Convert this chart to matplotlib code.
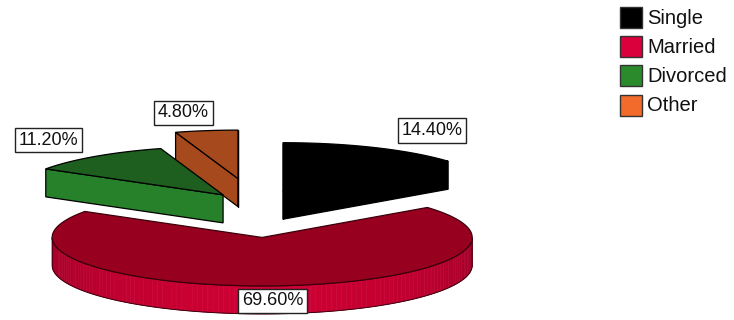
import matplotlib
matplotlib.use("Agg")
import matplotlib.pyplot as plt
from matplotlib.patches import Polygon, Rectangle
import numpy as np

# data
categories = ["Single", "Married", "Divorced", "Other"]
percent = [14.40, 69.60, 11.20, 4.80]

# style
legend_colors = ["#000000", "#d9003b", "#2b8a2b", "#f26b2b"]
top_colors = ["#000000", "#98001f", "#1e5e1e", "#a64a1d"]
side_colors = ["#000000", "#cc0033", "#27802a", "#a64a1d"]
edge_colors = ["#000000", "#3a000c", "#000000", "#000000"]
explode = [0.305, 0.68, 0.25, 0.54]
label_nudge = [(57, -17), (0, 1), (-47, -16), (-23, -18)]

W, H = 734, 320
CX, CY = 255, 204.5     # pie centre (pixels)
RX, RY = 210, 48.5      # projected ellipse radii
DEPTH = 28              # pie thickness

plt.rcParams["font.family"] = ["Liberation Sans", "DejaVu Sans"]


def rim(cx, cy, ang, dz=0.0):
    a = np.radians(ang)
    return cx + RX * np.cos(a), cy - RY * np.sin(a) + dz


def shade(color, f):
    rgb = np.array(matplotlib.colors.to_rgb(color)) * f
    return tuple(np.clip(rgb, 0, 1))


fig = plt.figure(figsize=(W / 100, H / 100), dpi=100)
ax = fig.add_axes([0, 0, 1, 1])
ax.set_xlim(0, W)
ax.set_ylim(H, 0)
ax.axis("off")

# slice angles (start at 12 o'clock, clockwise)
slices = []
start = 90.0
for i, p in enumerate(percent):
    span = 360.0 * p / 100.0
    hi, lo = start, start - span
    start = lo
    mid = (hi + lo) / 2
    sx = CX + explode[i] * RX * np.cos(np.radians(mid))
    sy = CY - explode[i] * RY * np.sin(np.radians(mid))
    slices.append(dict(i=i, hi=hi, lo=lo, mid=mid, sx=sx, sy=sy))

# back to front
for s in sorted(slices, key=lambda d: d["sy"]):
    i, hi, lo, sx, sy = s["i"], s["hi"], s["lo"], s["sx"], s["sy"]
    ec = edge_colors[i]

    # outer wall, only where it faces the viewer
    th = np.linspace(lo, hi, int((hi - lo) / 1.5) + 2)
    vis = []
    for a1, a2 in zip(th[:-1], th[1:]):
        am = (a1 + a2) / 2
        if np.sin(np.radians(am)) < 0:
            f = 0.78 + 0.22 * (-np.sin(np.radians(am)))
            x1, y1 = rim(sx, sy, a1)
            x2, y2 = rim(sx, sy, a2)
            c = shade(side_colors[i], f)
            ax.add_patch(Polygon([(x1, y1), (x2, y2), (x2, y2 + DEPTH), (x1, y1 + DEPTH)],
                                 closed=True, fc=c, ec=c, lw=0.4))
            vis.extend([a1, a2])
    if vis:
        arc = np.linspace(min(vis), max(vis), 200)
        top = [rim(sx, sy, a) for a in arc]
        bot = [rim(sx, sy, a, DEPTH) for a in arc[::-1]]
        ax.add_patch(Polygon(top + bot, closed=True, fill=False, ec=ec, lw=0.7))

    # radial cut faces
    for phi, normal in ((hi, hi + 90), (lo, lo - 90)):
        if np.sin(np.radians(normal)) <= 1e-6:
            rx_, ry_ = rim(sx, sy, phi)
            ax.add_patch(Polygon([(sx, sy), (rx_, ry_), (rx_, ry_ + DEPTH), (sx, sy + DEPTH)],
                                 closed=True, fc=side_colors[i], ec=ec, lw=0.9))

    # top face
    arc = np.linspace(hi, lo, 200)
    pts = [(sx, sy)] + [rim(sx, sy, a) for a in arc]
    ax.add_patch(Polygon(pts, closed=True, fc=top_colors[i], ec=ec, lw=0.9))

# value labels
for s in slices:
    i = s["i"]
    x, y = rim(s["sx"], s["sy"], s["mid"])
    if np.sin(np.radians(s["mid"])) < 0:
        y += DEPTH / 2
    dx, dy = label_nudge[i]
    ax.text(x + dx, y + dy, f"{percent[i]:.2f}%", fontsize=13, color="#111111",
            ha="center", va="center",
            bbox=dict(boxstyle="square,pad=0.2", fc="white", ec="#222222", lw=1))

# legend
for k, name in enumerate(categories):
    yc = 17.5 + 29.2 * k
    ax.add_patch(Rectangle((620, yc - 10.5), 22, 21, fc=legend_colors[k], ec="#333333", lw=1))
    ax.text(647, yc + 0.5, name, fontsize=14.5, color="#111111", ha="left", va="center")

fig.savefig("out.png", dpi=100)
